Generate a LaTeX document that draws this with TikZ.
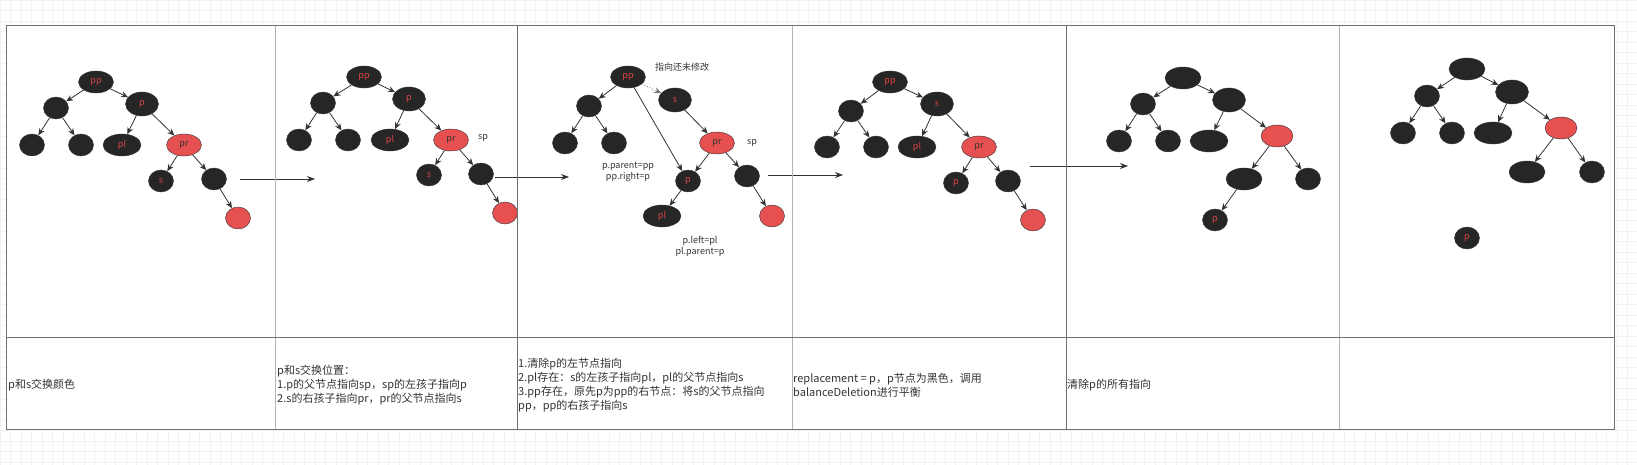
\documentclass[tikz,border=0pt]{standalone}
\usepackage{fontspec}
\setmainfont{Noto Sans CJK SC}
\definecolor{nodeblack}{RGB}{38,38,38}
\definecolor{nodered}{RGB}{230,80,80}
\definecolor{labelred}{RGB}{222,68,68}
\definecolor{linedark}{RGB}{51,51,51}
\definecolor{framedark}{RGB}{112,112,112}
\definecolor{framelight}{RGB}{180,180,180}
\definecolor{gridline}{RGB}{242,242,242}
\usetikzlibrary{arrows.meta,shapes.geometric}
\tikzset{
    blacknode/.style={ellipse, draw=linedark, fill=nodeblack, text=labelred, inner sep=0pt, minimum width=#1, minimum height=22pt, font=\fontsize{9}{10}\selectfont},
    blacknode/.default=25pt,
    rednode/.style={ellipse, draw=linedark, fill=nodered, text=linedark, inner sep=0pt, minimum width=#1, minimum height=22pt, font=\fontsize{9}{10}\selectfont},
    rednode/.default=25pt,
    treearrow/.style={-{Stealth[length=7pt,width=6pt]}, draw=linedark, line width=0.8pt},
    steparrow/.style={-{Stealth[length=8pt,width=6pt]}, draw=linedark, line width=0.8pt},
    notetext/.style={text=linedark, align=center, inner sep=0pt, font=\fontsize{9}{11}\selectfont},
    celltext/.style={anchor=west, align=left, text=linedark, inner sep=1pt, font=\fontsize{11}{14}\selectfont}
}

\begin{document}
\begin{tikzpicture}[x=1pt, y=-1pt]
    \useasboundingbox (0,0) rectangle (1637,465);
    \fill[white] (0,0) rectangle (1637,465);
    \draw[gridline, line width=0.5pt, step=10.5pt] (0,465) grid (1637,0);
    \fill[white] (6.5,25) rectangle (1614,429);

    % p and s swap colours
    \node[blacknode=35pt] (pp1) at (96,82) {pp};
    \node[blacknode] (l1) at (56,108) {};
    \node[blacknode=33pt, minimum height=24pt] (p1) at (142,104) {p};
    \node[blacknode] (ll1) at (32,145) {};
    \node[blacknode] (lr1) at (81,145) {};
    \node[blacknode=38pt] (pl1) at (122,145) {pl};
    \node[rednode=35pt] (pr1) at (184,145) {pr};
    \node[blacknode] (s1) at (161,181) {s};
    \node[blacknode] (r1) at (214,179) {};
    \node[rednode] (rr1) at (238,218) {};
    \draw[treearrow] (pp1) -- (l1);
    \draw[treearrow] (pp1) -- (p1);
    \draw[treearrow] (l1) -- (ll1);
    \draw[treearrow] (l1) -- (lr1);
    \draw[treearrow] (p1) -- (pl1);
    \draw[treearrow] (p1) -- (pr1);
    \draw[treearrow] (pr1) -- (s1);
    \draw[treearrow] (pr1) -- (r1);
    \draw[treearrow] (r1) -- (rr1);

    % p and s swap places
    \node[blacknode=35pt] (pp2) at (364,77) {pp};
    \node[blacknode] (l2) at (323,103) {};
    \node[blacknode=33pt, minimum height=24pt] (p2) at (409,99) {p};
    \node[blacknode] (ll2) at (299,140) {};
    \node[blacknode] (lr2) at (348,140) {};
    \node[blacknode=38pt] (pl2) at (390,140) {pl};
    \node[rednode=35pt] (pr2) at (451,140) {pr};
    \node[notetext] (sp2) at (483,138) {sp};
    \node[blacknode] (s2) at (429,175) {s};
    \node[blacknode] (r2) at (481,174) {};
    \node[rednode] (rr2) at (505,213) {};
    \draw[treearrow] (pp2) -- (l2);
    \draw[treearrow] (pp2) -- (p2);
    \draw[treearrow] (l2) -- (ll2);
    \draw[treearrow] (l2) -- (lr2);
    \draw[treearrow] (p2) -- (pl2);
    \draw[treearrow] (p2) -- (pr2);
    \draw[treearrow] (pr2) -- (s2);
    \draw[treearrow] (pr2) -- (r2);
    \draw[treearrow] (r2) -- (rr2);

    % relink p, pl and pp
    \node[blacknode=35pt] (pp3) at (628,77) {pp};
    \node[notetext] (todo3) at (682,67) {指向还未修改};
    \node[blacknode] (l3) at (589,106) {};
    \node[blacknode=33pt, minimum height=24pt] (s3) at (675,100) {s};
    \node[blacknode] (ll3) at (565,143) {};
    \node[blacknode] (lr3) at (614,143) {};
    \node[rednode=35pt] (pr3) at (717,143) {pr};
    \node[notetext] (sp3) at (752,143) {sp};
    \node[notetext] (up3) at (628,172) {p.parent=pp\\pp.right=p};
    \node[blacknode] (p3) at (688,181) {p};
    \node[blacknode] (r3) at (747,176) {};
    \node[blacknode=38pt] (pl3) at (662,216) {pl};
    \node[rednode] (rr3) at (772,216) {};
    \node[notetext] (down3) at (700,246) {p.left=pl\\pl.parent=p};
    \draw[treearrow] (pp3) -- (l3);
    \draw[treearrow, dotted, draw=linedark!70] (pp3) -- (s3);
    \draw[treearrow] (pp3) -- (p3);
    \draw[treearrow] (l3) -- (ll3);
    \draw[treearrow] (l3) -- (lr3);
    \draw[treearrow] (s3) -- (pr3);
    \draw[treearrow] (pr3) -- (p3);
    \draw[treearrow] (pr3) -- (r3);
    \draw[treearrow] (p3) -- (pl3);
    \draw[treearrow] (r3) -- (rr3);

    % replacement = p
    \node[blacknode=35pt] (pp4) at (890,82) {pp};
    \node[blacknode] (l4) at (851,111) {};
    \node[blacknode=33pt, minimum height=24pt] (s4) at (937,104) {s};
    \node[blacknode] (ll4) at (827,147) {};
    \node[blacknode] (lr4) at (876,147) {};
    \node[blacknode=38pt] (pl4) at (917,147) {pl};
    \node[rednode=35pt] (pr4) at (979,147) {pr};
    \node[blacknode] (p4) at (956,183) {p};
    \node[blacknode] (r4) at (1008,181) {};
    \node[rednode] (rr4) at (1033,220) {};
    \draw[treearrow] (pp4) -- (l4);
    \draw[treearrow] (pp4) -- (s4);
    \draw[treearrow] (l4) -- (ll4);
    \draw[treearrow] (l4) -- (lr4);
    \draw[treearrow] (s4) -- (pl4);
    \draw[treearrow] (s4) -- (pr4);
    \draw[treearrow] (pr4) -- (p4);
    \draw[treearrow] (pr4) -- (r4);
    \draw[treearrow] (r4) -- (rr4);

    % after balancing
    \node[blacknode=36pt] (t5) at (1183,78) {};
    \node[blacknode] (l5) at (1143,104) {};
    \node[blacknode=33pt, minimum height=24pt] (s5) at (1229,100) {};
    \node[blacknode] (ll5) at (1119,141) {};
    \node[blacknode] (lr5) at (1168,141) {};
    \node[blacknode=38pt] (pl5) at (1209,141) {};
    \node[rednode=32pt] (pr5) at (1277,136) {};
    \node[blacknode=36pt] (m5) at (1244,179) {};
    \node[blacknode] (r5) at (1308,179) {};
    \node[blacknode] (p5) at (1215,220) {p};
    \draw[treearrow] (t5) -- (l5);
    \draw[treearrow] (t5) -- (s5);
    \draw[treearrow] (l5) -- (ll5);
    \draw[treearrow] (l5) -- (lr5);
    \draw[treearrow] (s5) -- (pl5);
    \draw[treearrow] (s5) -- (pr5);
    \draw[treearrow] (pr5) -- (m5);
    \draw[treearrow] (pr5) -- (r5);
    \draw[treearrow] (m5) -- (p5);

    % p unlinked
    \node[blacknode=36pt] (t6) at (1467,69) {};
    \node[blacknode] (l6) at (1427,96) {};
    \node[blacknode=33pt, minimum height=24pt] (s6) at (1512,92) {};
    \node[blacknode] (ll6) at (1403,133) {};
    \node[blacknode] (lr6) at (1452,133) {};
    \node[blacknode=38pt] (pl6) at (1493,133) {};
    \node[rednode=32pt] (pr6) at (1561,128) {};
    \node[blacknode=36pt] (m6) at (1527,172) {};
    \node[blacknode] (r6) at (1592,172) {};
    \node[blacknode] (p6) at (1467,238) {p};
    \draw[treearrow] (t6) -- (l6);
    \draw[treearrow] (t6) -- (s6);
    \draw[treearrow] (l6) -- (ll6);
    \draw[treearrow] (l6) -- (lr6);
    \draw[treearrow] (s6) -- (pl6);
    \draw[treearrow] (s6) -- (pr6);
    \draw[treearrow] (pr6) -- (m6);
    \draw[treearrow] (pr6) -- (r6);

    % steps between the panels
    \coordinate (go1) at (240,179);
    \coordinate (in2) at (315,179);
    \coordinate (go2) at (495,177);
    \coordinate (in3) at (569,177);
    \coordinate (go3) at (768,175);
    \coordinate (in4) at (843,175);
    \coordinate (go4) at (1030,166);
    \coordinate (in5) at (1128,166);
    \draw[steparrow] (go1) -- (in2);
    \draw[steparrow] (go2) -- (in3);
    \draw[steparrow] (go3) -- (in4);
    \draw[steparrow] (go4) -- (in5);

    % table
    \draw[framelight, line width=0.8pt] (275.5,25) -- (275.5,429);
    \draw[framelight, line width=0.8pt] (792,25) -- (792,429);
    \draw[framelight, line width=0.8pt] (1339,25) -- (1339,429);
    \draw[framedark, line width=0.8pt] (517,25) -- (517,429);
    \draw[framedark, line width=0.8pt] (1066,25) -- (1066,429);
    \draw[framedark, line width=0.8pt] (6.5,337) -- (1614,337);
    \draw[framedark, line width=0.8pt] (6.5,25) rectangle (1614,429);

    \node[celltext] (c1) at (7,385) {p和s交换颜色};
    \node[celltext] (c2) at (276,385) {p和s交换位置：\\1.p的父节点指向sp，sp的左孩子指向p\\2.s的右孩子指向pr，pr的父节点指向s};
    \node[celltext] (c3) at (517,385) {1.清除p的左节点指向\\2.pl存在：s的左孩子指向pl，pl的父节点指向s\\3.pp存在，原先p为pp的右节点：将s的父节点指向\\pp，pp的右孩子指向s};
    \node[celltext] (c4) at (792,385) {replacement = p，p节点为黑色，调用\\balanceDeletion进行平衡};
    \node[celltext] (c5) at (1066,385) {清除p的所有指向};
\end{tikzpicture}
\end{document}
